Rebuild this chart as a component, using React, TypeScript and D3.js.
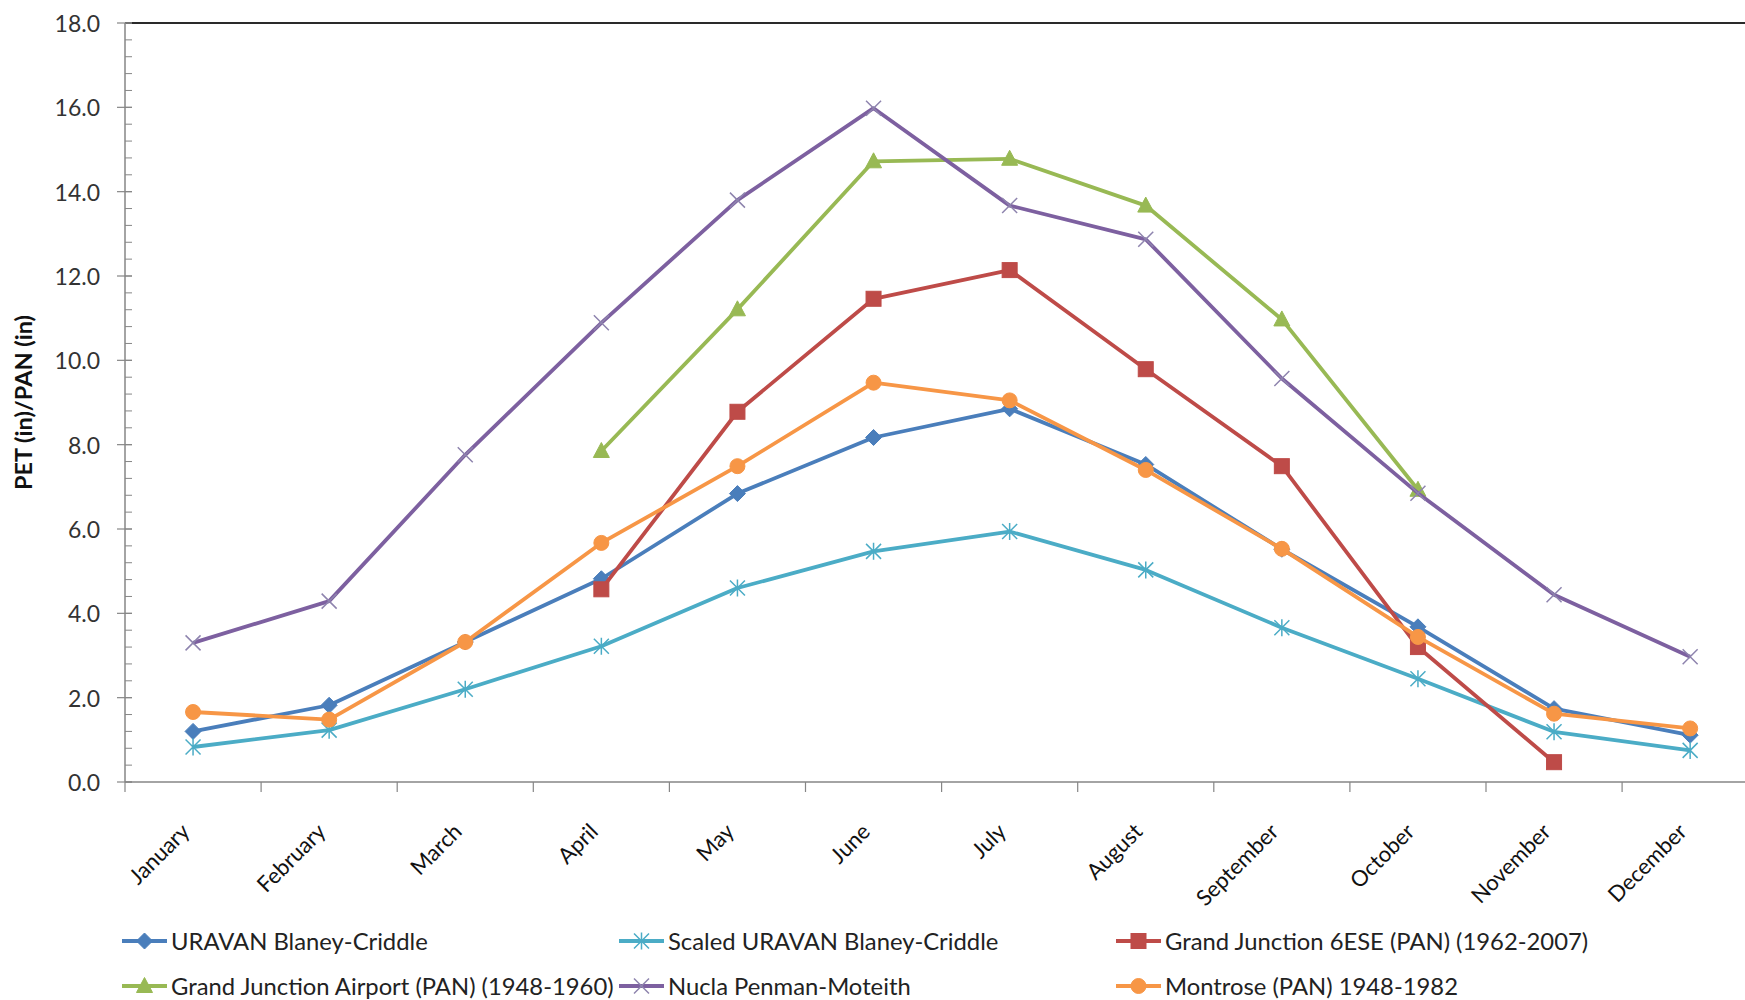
import React from 'react';
import * as d3 from 'd3';

const months = ['January', 'February', 'March', 'April', 'May', 'June', 'July', 'August', 'September', 'October', 'November', 'December'];

const uravanBC = [1.20, 1.82, 3.32, 4.82, 6.84, 8.17, 8.85, 7.53, 5.52, 3.68, 1.74, 1.11];
const scaledUravanBC = [0.83, 1.23, 2.20, 3.22, 4.60, 5.47, 5.94, 5.03, 3.66, 2.45, 1.19, 0.75];
const gj6ese = [null, null, null, 4.57, 8.78, 11.46, 12.14, 9.79, 7.49, 3.20, 0.47, null];
const gjAirport = [null, null, null, 7.85, 11.21, 14.72, 14.78, 13.67, 10.97, 6.93, null, null];
const nucla = [3.30, 4.29, 7.76, 10.89, 13.80, 15.98, 13.67, 12.87, 9.57, 6.85, 4.44, 2.97];
const montrose = [1.66, 1.48, 3.32, 5.67, 7.49, 9.47, 9.05, 7.40, 5.53, 3.44, 1.62, 1.27];

const seriesNames = [
  'URAVAN Blaney-Criddle',
  'Scaled URAVAN Blaney-Criddle',
  'Grand Junction 6ESE (PAN) (1962-2007)',
  'Grand Junction Airport (PAN) (1948-1960)',
  'Nucla Penman-Moteith',
  'Montrose (PAN) 1948-1982',
];
const seriesValues = [uravanBC, scaledUravanBC, gj6ese, gjAirport, nucla, montrose];
const seriesColors = ['#4A7EBB', '#4BACC6', '#BE4B48', '#98B954', '#7D60A0', '#F79646'];
const markerColors = ['#4A7EBB', '#4BACC6', '#BE4B48', '#98B954', '#8E84AE', '#F79646'];
const markerTypes = ['diamond', 'asterisk', 'square', 'triangle', 'x', 'circle'];

const yTicks = [0, 2, 4, 6, 8, 10, 12, 14, 16, 18];
const yMinorTicks = d3.range(0, 18.001, 0.4);

const FONT = "Lato, 'Open Sans', sans-serif";

function Marker({ type, cx, cy, color }: { type: string; cx: number; cy: number; color: string }) {
  const t = `translate(${cx},${cy})`;
  switch (type) {
    case 'diamond':
      return <path transform={t} d="M0,-8L8,0L0,8L-8,0Z" fill={color} stroke={color} strokeWidth={1} />;
    case 'square':
      return <rect transform={t} x={-7.5} y={-7.5} width={15} height={15} fill={color} stroke={color} strokeWidth={1} />;
    case 'triangle':
      return <path transform={t} d="M0,-8.5L8,6.5L-8,6.5Z" fill={color} stroke={color} strokeWidth={1} />;
    case 'circle':
      return <circle cx={cx} cy={cy} r={7.5} fill={color} stroke={color} strokeWidth={1} />;
    case 'x':
      return <path transform={t} d="M-7.5,-7.5L7.5,7.5M-7.5,7.5L7.5,-7.5" fill="none" stroke={color} strokeWidth={1.5} />;
    case 'asterisk':
      return <path transform={t} d="M-7.5,-7.5L7.5,7.5M-7.5,7.5L7.5,-7.5M0,-8.5L0,8.5" fill="none" stroke={color} strokeWidth={1.5} />;
    default:
      return null;
  }
}

export default function App() {
  const W = 1745;
  const H = 1000;
  const left = 125;
  const top = 23;
  const bottom = 782;
  const bandW = 136.1;
  const right = left + months.length * bandW;

  const x = d3.scaleBand<string>().domain(months).range([left, right]).padding(0);
  const y = d3.scaleLinear().domain([0, 18]).range([bottom, top]);
  const cx = (i: number) => (x(months[i]) as number) + x.bandwidth() / 2;

  const line = d3
    .line<number | null>()
    .defined((d) => d != null)
    .x((_, i) => cx(i))
    .y((d) => y(d as number));

  const legendCols = [122, 619, 1116];
  const legendRows = [941, 986];

  return (
    <svg width={W} height={H} style={{ position: 'absolute', left: 0, top: 0, background: '#fff' }} fontFamily={FONT}>
      <rect x={0} y={0} width={W} height={H} fill="#fff" />
      {/* top border */}
      <line x1={left} x2={W + 20} y1={top} y2={top} stroke="#2a2a2a" strokeWidth={2.2} />
      {/* y axis */}
      <line x1={left} x2={left} y1={top} y2={bottom} stroke="#868686" strokeWidth={1.5} />
      {yMinorTicks.map((v, i) => (
        <line key={'mn' + i} x1={left} x2={left + 7} y1={y(v)} y2={y(v)} stroke="#868686" strokeWidth={1} />
      ))}
      {yTicks.map((v) => (
        <g key={'yt' + v}>
          <line x1={left - 8} x2={left + 7} y1={y(v)} y2={y(v)} stroke="#868686" strokeWidth={1.2} />
          <text x={100} y={y(v)} textAnchor="end" dominantBaseline="central" fontSize={23} fill="#333">
            {v.toFixed(1)}
          </text>
        </g>
      ))}
      <text
        transform={`translate(23,${(top + bottom) / 2}) rotate(-90)`}
        textAnchor="middle"
        dominantBaseline="central"
        fontSize={23.5}
        fontWeight="bold"
        fill="#111"
      >
        PET (in)/PAN (in)
      </text>
      {/* x axis */}
      <line x1={left} x2={W + 20} y1={bottom} y2={bottom} stroke="#868686" strokeWidth={1.5} />
      {d3.range(months.length + 1).map((k) => (
        <line key={'xt' + k} x1={left + k * bandW} x2={left + k * bandW} y1={bottom} y2={bottom + 10} stroke="#868686" strokeWidth={1.2} />
      ))}
      {months.map((m, i) => (
        <text
          key={m}
          transform={`translate(${cx(i) - 2},${bottom + 51}) rotate(-45)`}
          textAnchor="end"
          fontSize={22}
          fill="#111"
        >
          {m}
        </text>
      ))}
      {/* series */}
      {seriesValues.map((vals, s) => (
        <g key={'s' + s}>
          <path d={line(vals) as string} fill="none" stroke={seriesColors[s]} strokeWidth={3.8} strokeLinejoin="round" />
          {vals.map((v, i) =>
            v == null ? null : <Marker key={i} type={markerTypes[s]} cx={cx(i)} cy={y(v)} color={markerColors[s]} />
          )}
        </g>
      ))}
      {/* legend */}
      {seriesNames.map((name, s) => {
        const lx = legendCols[s % 3];
        const ly = legendRows[Math.floor(s / 3)];
        return (
          <g key={'lg' + s}>
            <line x1={lx} x2={lx + 45} y1={ly} y2={ly} stroke={seriesColors[s]} strokeWidth={3.8} />
            <Marker type={markerTypes[s]} cx={lx + 22.5} cy={ly} color={markerColors[s]} />
            <text x={lx + 49} y={ly} dominantBaseline="central" fontSize={23.8} fill="#222">
              {name}
            </text>
          </g>
        );
      })}
    </svg>
  );
}
